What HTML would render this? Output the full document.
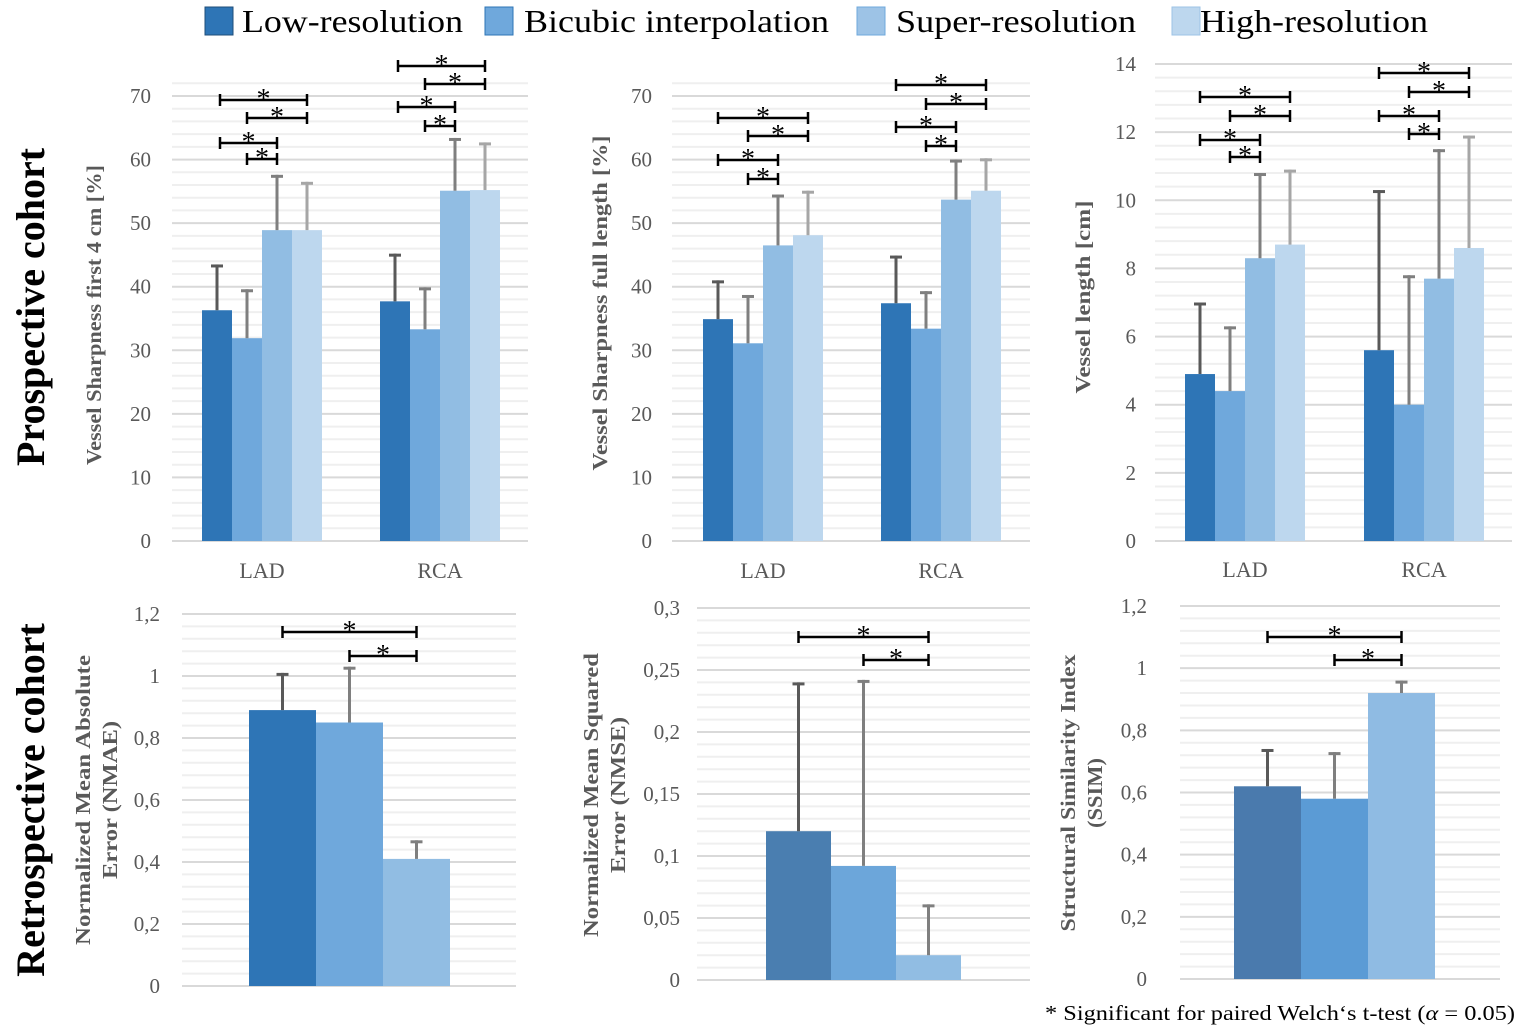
<!DOCTYPE html>
<html><head><meta charset="utf-8"><style>
body{margin:0;background:#fff;}
svg{display:block;font-family:"Liberation Serif",serif;}
</style></head><body>
<svg id="fig" width="1528" height="1032" viewBox="0 0 1528 1032">
<g font-size="32" fill="#000">
<g><rect x="205" y="7" width="28" height="28" fill="#2e75b6" stroke="#1f4e79"/><text x="242" y="32" textLength="221" lengthAdjust="spacingAndGlyphs">Low-resolution</text></g>
<g><rect x="485" y="7" width="28" height="28" fill="#6fa8dc" stroke="#2e75b6"/><text x="524" y="32" textLength="305" lengthAdjust="spacingAndGlyphs">Bicubic interpolation</text></g>
<g><rect x="857" y="7" width="28" height="28" fill="#9dc3e6" stroke="#6fa8dc"/><text x="896" y="32" textLength="240" lengthAdjust="spacingAndGlyphs">Super-resolution</text></g>
<g><rect x="1172" y="7" width="28" height="28" fill="#bdd7ee" stroke="#9dc3e6"/><text x="1200" y="32" textLength="228" lengthAdjust="spacingAndGlyphs">High-resolution</text></g>
</g>
<text transform="translate(44,307) rotate(-90)" text-anchor="middle" font-size="40" font-weight="bold">Prospective cohort</text>
<text transform="translate(44,800) rotate(-90)" text-anchor="middle" font-size="40" font-weight="bold">Retrospective cohort</text>
<text x="1045" y="1020" font-size="21" textLength="470" lengthAdjust="spacingAndGlyphs">* Significant for paired Welch‘s t-test (<tspan font-style="italic">α</tspan> = 0.05)</text>
</svg>
<script>
// chart data
const topCats = ["LAD", "RCA"];
const c1Vals = [[36.3, 31.9, 48.9, 48.9], [37.7, 33.3, 55.1, 55.2]];
const c1Errs = [[43.5, 39.6, 57.6, 56.5], [45.2, 39.9, 63.4, 62.7]];
const c1Ticks = ["0","10","20","30","40","50","60","70"];
const c2Vals = [[34.9, 31.1, 46.5, 48.1], [37.4, 33.4, 53.7, 55.1]];
const c2Errs = [[41.0, 38.7, 54.5, 55.1], [44.9, 39.3, 60.0, 60.2]];
const c2Ticks = ["0","10","20","30","40","50","60","70"];
const c3Vals = [[4.9, 4.4, 8.3, 8.7], [5.6, 4.0, 7.7, 8.6]];
const c3Errs = [[7.0, 6.3, 10.8, 10.9], [10.3, 7.8, 11.5, 11.9]];
const c3Ticks = ["0","2","4","6","8","10","12","14"];
const c4Vals = [[0.89, 0.85, 0.41]];
const c4Errs = [[1.01, 1.03, 0.47]];
const c4Ticks = ["0","0,2","0,4","0,6","0,8","1","1,2"];
const c5Vals = [[0.12, 0.092, 0.02]];
const c5Errs = [[0.24, 0.242, 0.061]];
const c5Ticks = ["0","0,05","0,1","0,15","0,2","0,25","0,3"];
const c6Vals = [[0.62, 0.58, 0.92]];
const c6Errs = [[0.74, 0.73, 0.96]];
const c6Ticks = ["0","0,2","0,4","0,6","0,8","1","1,2"];

const NS = "http://www.w3.org/2000/svg";
const svg = document.getElementById("fig");
function mk(tag, attrs, parent) {
  const e = document.createElementNS(NS, tag);
  for (const k in attrs) e.setAttribute(k, attrs[k]);
  (parent || svg).appendChild(e);
  return e;
}
const errCols = ["#595959", "#7f7f7f", "#7f7f7f", "#a6a6a6"];

function chart(o) {
  const g = mk("g", {});
  
  
  const ymax = o.ymax;
  const y = v => o.y0 - (v / ymax) * (o.y0 - o.yTop);
  const majorStep = ymax / (o.ticks.length - 1);
  const nMinor = (o.ticks.length - 1) * o.minorPer + o.extraMinor;
  for (let i = 1; i <= nMinor; i++) {
    const v = i * majorStep / o.minorPer;
    const major = i % o.minorPer === 0;
    const l = mk("line", {x1: o.x0, x2: o.x1, y1: y(v), y2: y(v), stroke: major ? "#d9d9d9" : "#efefef", "stroke-width": 2}, g);
    
    
  }
  const ax = mk("line", {x1: o.x0, x2: o.x1, y1: o.y0, y2: o.y0, stroke: "#d9d9d9", "stroke-width": 2}, g);
  
  
  o.ticks.forEach((t, i) => {
    const tx = mk("text", {x: o.tickX, y: y(i * majorStep) + 7, "text-anchor": "end", "font-size": 21, fill: "#595959"}, g);
    tx.textContent = t;
    
    
  });
  const centers = [];
  o.vals.forEach((grp, gi) => {
    centers.push([]);
    grp.forEach((v, si) => {
      const bx = o.groupStart[gi] + si * o.bw;
      const r = mk("rect", {x: bx, y: y(v), width: o.bw, height: o.y0 - y(v), fill: o.colors[si]}, g);
      
      
      const cx = bx + o.bw / 2;
      centers[gi].push(cx);
      const ey = y(o.errs[gi][si]);
      const ec = errCols[si];
      const el = mk("line", {x1: cx, x2: cx, y1: y(v), y2: ey, stroke: ec, "stroke-width": 3}, g);
      
      
      const cap = mk("line", {x1: cx - 6, x2: cx + 6, y1: ey + 1.5, y2: ey + 1.5, stroke: ec, "stroke-width": 3}, g);
      
      
    });
    if (o.cats) {
      const ct = mk("text", {x: o.groupStart[gi] + grp.length * o.bw / 2, y: o.catY, "text-anchor": "middle", "font-size": 22, fill: "#595959"}, g);
      ct.textContent = o.cats[gi];
      
      
    }
  });
  o.brackets.forEach(b => {
    const xa = centers[b[0]][b[1]] + (b[4] || 0), xb = centers[b[0]][b[2]], by = b[3];
    const bg = mk("g", {stroke: "#000", "stroke-width": 2.5}, g);
    
    
    mk("line", {x1: xa, x2: xb, y1: by, y2: by}, bg);
    mk("line", {x1: xa, x2: xa, y1: by - 6, y2: by + 6}, bg);
    mk("line", {x1: xb, x2: xb, y1: by - 6, y2: by + 6}, bg);
    const st = mk("text", {x: (xa + xb) / 2, y: by + 8, "text-anchor": "middle", "font-size": 28, fill: "#000", stroke: "none"}, bg);
    st.textContent = "*";
  });
  const tt = mk("text", {transform: `translate(${o.titleX},${o.titleY}) rotate(-90)`, "text-anchor": "middle", "font-size": 21, "font-weight": "bold", fill: "#595959"}, g);
  
  
  o.title.forEach((line, i) => {
    const ts = mk("tspan", {x: 0, dy: i === 0 ? 0 : 27, textLength: o.titleLen[i], lengthAdjust: "spacingAndGlyphs"}, tt);
    ts.textContent = line;
  });
}

const topCols = ["#2e75b6", "#6fa8dc", "#91bde3", "#bdd7ee"];
const topBr = (a, b) => [[0,0,3,a[0]],[0,1,3,a[1]],[0,0,2,a[2]],[0,1,2,a[3]],[1,0,3,b[0]],[1,1,3,b[1]],[1,0,2,b[2]],[1,1,2,b[3]]];
chart({name:"chart-vessel-sharpness-4cm", x0:172, x1:528, y0:541, yTop:96, ymax:70, ticks:c1Ticks, minorPer:5, extraMinor:1,
  tickX:151, vals:c1Vals, errs:c1Errs, cats:topCats, groupStart:[202,380], bw:30, colors:topCols, catY:578,
  brackets: topBr([100,118,143,159],[66,84,107,126]).map(b=>(b[1]===0?b.concat([3]):b)),
  title:["Vessel Sharpness first 4 cm [%]"], titleLen:[300], titleX:101, titleY:315});
chart({name:"chart-vessel-sharpness-full", x0:672, x1:1030, y0:541, yTop:96, ymax:70, ticks:c2Ticks, minorPer:5, extraMinor:1,
  tickX:652, vals:c2Vals, errs:c2Errs, cats:topCats, groupStart:[703,881], bw:30, colors:topCols, catY:578,
  brackets: topBr([118,136,160,179],[85,104,127,146]),
  title:["Vessel Sharpness full length [%]"], titleLen:[335], titleX:607, titleY:303});
chart({name:"chart-vessel-length", x0:1155, x1:1512, y0:541, yTop:64, ymax:14, ticks:c3Ticks, minorPer:5, extraMinor:0,
  tickX:1136, vals:c3Vals, errs:c3Errs, cats:topCats, groupStart:[1185,1364], bw:30, colors:topCols, catY:577,
  brackets: topBr([97,116,140,157],[73,92,116,134]),
  title:["Vessel length [cm]"], titleLen:[193], titleX:1090, titleY:297});
chart({name:"chart-nmae", x0:182, x1:516, y0:986, yTop:614, ymax:1.2, ticks:c4Ticks, minorPer:5, extraMinor:0,
  tickX:160, vals:c4Vals, errs:c4Errs, cats:null, groupStart:[249], bw:67, colors:["#2e75b6","#6fa8dc","#91bde3"], catY:0,
  brackets:[[0,0,2,632],[0,1,2,656]],
  title:["Normalized Mean Absolute","Error (NMAE)"], titleLen:[290,158], titleX:90, titleY:800});
chart({name:"chart-nmse", x0:697, x1:1030, y0:980, yTop:608, ymax:0.3, ticks:c5Ticks, minorPer:5, extraMinor:0,
  tickX:680, vals:c5Vals, errs:c5Errs, cats:null, groupStart:[766], bw:65, colors:["#4a7eb0","#6ca6da","#91bde3"], catY:0,
  brackets:[[0,0,2,637],[0,1,2,660]],
  title:["Normalized Mean Squared","Error (NMSE)"], titleLen:[284,156], titleX:598, titleY:795});
chart({name:"chart-ssim", x0:1180, x1:1500, y0:979, yTop:606, ymax:1.2, ticks:c6Ticks, minorPer:5, extraMinor:0,
  tickX:1147, vals:c6Vals, errs:c6Errs, cats:null, groupStart:[1234], bw:67, colors:["#4a7aad","#5b9bd5","#8fbbe3"], catY:0,
  brackets:[[0,0,2,637],[0,1,2,660]],
  title:["Structural Similarity Index","(SSIM)"], titleLen:[277,70], titleX:1075, titleY:793});
</script>
</body></html>
